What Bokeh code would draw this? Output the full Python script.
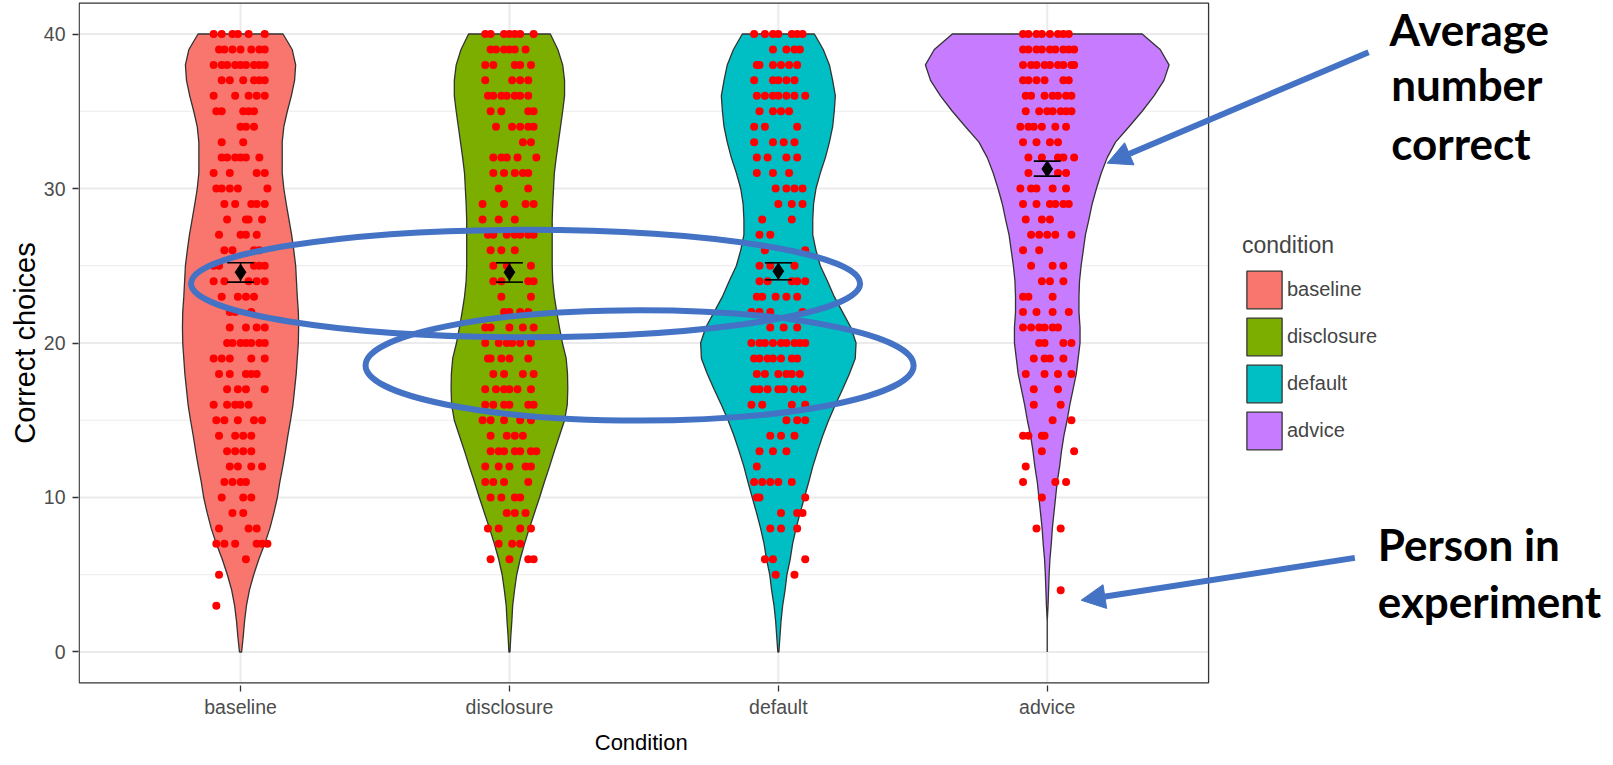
from bokeh.plotting import figure
from bokeh.models import Range1d, FixedTicker, Label, Arrow, NormalHead, Legend, LegendItem
from bokeh.embed import file_html
from bokeh.resources import INLINE

# ---------------- data ----------------
CATEGORIES = ["baseline", "disclosure", "default", "advice"]
FILLS = ["#F8766D", "#7CAE00", "#00BFC4", "#C77CFF"]
SCORES = list(range(0, 41))

# violin half-widths (hundredths of a category) for scores 0..40
BASELINE_HW = [0.4, 1.0, 1.5, 2.2, 3.3, 4.9, 6.8, 9.0, 10.9, 12.4, 13.7, 14.6, 15.7, 16.7, 17.6, 18.6,
               19.5, 20.1, 20.7, 21.1, 21.5, 21.6, 21.5, 21.1, 20.8, 20.5, 19.8, 19.0, 18.0, 17.0, 16.1,
               15.5, 15.5, 15.5, 16.1, 17.4, 18.9, 20.1, 20.5, 19.2, 15.8]
DISCLOSURE_HW = [0.2, 0.5, 0.9, 1.2, 1.9, 2.7, 4.0, 5.6, 7.4, 9.3, 11.2, 13.0, 14.9, 16.7, 18.6, 20.5,
                 21.5, 21.7, 21.6, 21.1, 19.7, 18.6, 17.6, 16.7, 16.1, 15.9, 15.9, 15.9, 15.9, 16.1, 16.4,
                 16.7, 17.4, 18.2, 19.0, 19.8, 20.5, 20.5, 19.8, 18.0, 15.2]
DEFAULT_HW = [0.2, 0.6, 1.0, 1.6, 2.5, 3.2, 4.4, 5.3, 6.6, 8.1, 9.7, 11.3, 12.8, 14.6, 16.5, 18.7,
              21.2, 23.9, 26.4, 28.6, 28.9, 27.0, 23.9, 20.8, 18.3, 15.6, 14.0, 12.8, 12.8, 13.1, 14.0,
              15.6, 17.5, 19.0, 20.2, 20.8, 21.2, 20.2, 19.0, 16.7, 13.4]
ADVICE_HW = [0.0, 0.0, 0.0, 0.3, 0.5, 0.7, 1.0, 1.5, 1.9, 2.5, 3.1, 3.7, 4.6, 5.3, 6.2, 7.4,
             8.4, 9.6, 10.8, 11.5, 12.2, 12.2, 11.8, 11.8, 12.0, 12.6, 13.4, 14.2, 15.5, 16.7, 18.3,
             20.1, 22.3, 25.4, 30.4, 35.3, 39.7, 43.4, 45.3, 42.0, 35.3]

# individual participants: score -> horizontal jitter (hundredths of a category)
BASELINE_DOTS = {
    40: [-10, -7, -3, -1, 3, 9], 39: [-8, -6, -3, 0, 4, 7, 9], 38: [-10, -7, -5, -2, 0, 2, 5, 7, 9],
    37: [-7, -4, 1, 5, 7, 9], 36: [-10, -2, 3, 6, 9], 35: [-9, -7, 1, 3, 5], 34: [0, 2, 5], 33: [-7, 1],
    32: [-7, -5, -2, 0, 2, 7], 31: [-10, -4, 6, 9], 30: [-9, -7, -4, -1, 10], 29: [-6, -2, 4, 6, 9],
    28: [-5, 2, 3, 8], 27: [-8, 0, 2, 6], 26: [-6, -3, 5, 7], 25: [-10, -8, 5, 7, 9], 24: [-10, -6, 3, 6, 9],
    23: [-7, -1, 2, 5], 22: [-4, -2, 4], 21: [-4, 2, 6, 9], 20: [-5, -3, 0, 2, 4, 7, 9],
    19: [-10, -7, -4, 4, 9], 18: [-8, -4, 2, 4, 6], 17: [-5, -1, 2, 9], 16: [-10, -5, -2, 0, 3],
    15: [-9, -6, -1, 5, 8], 14: [-8, -2, 1, 4], 13: [-5, -2, 1, 4], 12: [-4, -1, 4, 8], 11: [-6, -3, 0, 2],
    10: [-7, 1, 4], 9: [-3, 1], 8: [-8, 3, 6], 7: [-9, -6, -2, 6, 8, 10], 6: [2], 5: [-8], 3: [-9],
}
DISCLOSURE_DOTS = {
    40: [-9, -7, -2, 0, 2, 4, 9], 39: [-7, -5, -2, 0, 2, 6], 38: [-9, -6, 2, 4, 8], 37: [-9, 1, 4, 7],
    36: [-8, -6, -3, -1, 2, 4, 7], 35: [-7, -3, 7, 9], 34: [-5, 1, 4, 7, 9], 33: [5, 8],
    32: [-6, -3, -1, 3, 10], 31: [-6, -2, 2, 5, 7], 30: [-4, 7], 29: [-10, -2, 6, 9], 28: [-10, -4, 2],
    27: [-8, -6, -1, 2, 4, 7, 9], 26: [-7, -3, 2], 25: [-6, -1, 8], 24: [-6, -3, 7, 9], 23: [-3, 8],
    22: [-2, 0, 4, 7], 21: [-9, -7, 0, 5, 9], 20: [-9, -4, -1, 1, 4, 8], 19: [-8, -7, -3, 0, 7],
    18: [-6, -2, 5, 9], 17: [-9, -5, -2, 0, 3, 8], 16: [-9, -6, -2, 0, 7, 9], 15: [-10, -7, -2, 4, 8],
    14: [-7, -1, 2, 5], 13: [-7, -4, -2, 2, 4, 8, 10], 12: [-9, -4, 0, 6, 8], 11: [-9, -6, -2, 7],
    10: [-7, -3, 2, 4], 9: [-1, 2, 6], 8: [-8, -4, 4, 8], 7: [-4, 1, 4], 6: [-7, 0, 7, 9],
}
DEFAULT_DOTS = {
    40: [-9, -5, -2, 0, 5, 7, 9], 39: [-2, 3, 6, 8], 38: [-8, -7, -2, 1, 4, 7], 37: [-9, -2, 0, 3, 6],
    36: [-8, -5, -2, 0, 3, 6, 10], 35: [-7, -2, 1, 4], 34: [-9, -5, 7], 33: [-9, -2, 2, 6],
    32: [-8, -4, 3, 7], 31: [-8, -2, 4], 30: [-1, 3, 6, 9], 29: [0, 5, 9], 28: [-6, 5], 27: [-7, -3],
    26: [-5, 10], 25: [-7, -3, 6], 24: [-7, -4, 5, 7, 10], 23: [-8, -6, -1, 3, 7], 22: [-10, -7, -3, 9],
    21: [-3, 2, 7], 20: [-10, -7, -5, -2, 1, 3, 6, 8, 10], 19: [-9, -7, -4, -2, 1, 5, 7],
    18: [-8, -5, 0, 3, 5, 8], 17: [-9, -7, -4, 0, 2, 6, 9], 16: [-10, -6, 5, 10], 15: [3, 7, 10],
    14: [-3, 1, 6], 13: [-7, -2, 3], 12: [-8], 11: [-9, -6, -3, 0, 5], 10: [-8, -7, 10], 9: [1, 7, 9],
    8: [-3, 1, 7], 6: [-5, -2, 10], 5: [-1, 6],
}
ADVICE_DOTS = {
    40: [-9, -7, -4, -2, 1, 4, 6, 8], 39: [-9, -7, -4, -2, 1, 3, 6, 8, 10], 38: [-9, -6, -4, -1, 1, 4, 6, 9, 10],
    37: [-9, -7, -4, -1, 6, 8], 36: [-8, -6, -1, 2, 4, 7, 9], 35: [-8, -3, 0, 2, 5, 7, 9],
    34: [-10, -7, -5, -2, 3, 7], 33: [-9, -4, 1, 4], 32: [-7, -2, 4, 6, 10], 31: [-7, 4, 7],
    30: [-10, -6, -4, 2, 7], 29: [-9, -4, 1, 3, 6, 8], 28: [-8, -2, 1], 27: [-6, -3, 0, 3, 9], 26: [-9, -3],
    25: [-6, 2, 6], 24: [-2, 1, 6], 23: [-9, -7, 2], 22: [-9, -4, 2, 8], 21: [-9, -6, -3, -1, 2, 4],
    20: [-3, -1, 6, 9], 19: [-5, -1, 1, 6], 18: [-8, -1, 4, 9], 17: [-5, 4], 16: [-5, 5], 15: [2, 9],
    14: [-9, -7, -2, -1], 13: [-2, 10], 12: [-8], 11: [-9, 3, 7], 10: [-2], 8: [-4, 5], 4: [5],
}

MEANS = [24.58, 24.58, 24.65, 31.27]
SE_LOW = [23.94, 23.94, 24.09, 30.80]
SE_HIGH = [25.19, 25.19, 25.19, 31.77]
Y_TICKS = [0, 10, 20, 30, 40]

HALF_WIDTHS = [BASELINE_HW, DISCLOSURE_HW, DEFAULT_HW, ADVICE_HW]
DOTS = [BASELINE_DOTS, DISCLOSURE_DOTS, DEFAULT_DOTS, ADVICE_DOTS]

BLUE = "#4472C4"
SANS = "Liberation Sans"

# ---------------- figure ----------------
W, H = 1613, 760
p = figure(width=W, height=H, output_backend="svg", toolbar_location=None,
           x_range=Range1d(0.3974, 0.3974 + (W - 78) / 268.9), y_range=Range1d(-2.17, 42.17),
           min_border_left=78, min_border_right=0, min_border_top=0, min_border_bottom=H - 685)
p.outline_line_color = None
p.grid.visible = False
p.background_fill_color = "white"
p.border_fill_color = "white"

X0, X1 = 0.4, 4.6
Y0, Y1 = -2, 42

# grid (ggplot theme_bw)
minor = [(a + b) / 2 for a, b in zip(Y_TICKS[:-1], Y_TICKS[1:])]
p.segment(x0=[X0] * len(minor), x1=[X1] * len(minor), y0=minor, y1=minor, line_color="#EBEBEB", line_width=1.2)
p.segment(x0=[X0] * len(Y_TICKS), x1=[X1] * len(Y_TICKS), y0=Y_TICKS, y1=Y_TICKS, line_color="#EBEBEB", line_width=2)
cx = list(range(1, len(CATEGORIES) + 1))
p.segment(x0=cx, x1=cx, y0=[Y0] * 4, y1=[Y1] * 4, line_color="#EBEBEB", line_width=2)

# violins
items = []
for i, (cat, hw, col) in enumerate(zip(CATEGORIES, HALF_WIDTHS, FILLS)):
    c = i + 1
    xs = [c + h / 100 for h in hw] + [c - h / 100 for h in reversed(hw)]
    ys = SCORES + list(reversed(SCORES))
    r = p.patch(xs, ys, fill_color=col, line_color="#333333", line_width=1.3)
    items.append(LegendItem(label=cat, renderers=[r]))

# participants
dx, dy = [], []
for i, dots in enumerate(DOTS):
    for score, offs in dots.items():
        for o in offs:
            dx.append(i + 1 + o / 100)
            dy.append(score)
p.scatter(dx, dy, size=8, fill_color="#FF0000", line_color=None)

# mean +/- se
p.segment(x0=cx, x1=cx, y0=SE_LOW, y1=SE_HIGH, line_color="black", line_width=1.4)
p.segment(x0=[c - 0.05 for c in cx], x1=[c + 0.05 for c in cx], y0=SE_LOW, y1=SE_LOW, line_color="black", line_width=1.6)
p.segment(x0=[c - 0.05 for c in cx], x1=[c + 0.05 for c in cx], y0=SE_HIGH, y1=SE_HIGH, line_color="black", line_width=1.6)
p.scatter(cx, MEANS, marker="diamond", size=16, fill_color="black", line_color="black")

# panel border
p.quad(left=[X0], right=[X1], bottom=[Y0], top=[Y1], fill_color=None, line_color="#333333", line_width=1.3)

# axes
p.xaxis.ticker = FixedTicker(ticks=cx)
p.xaxis.major_label_overrides = {c: cat for c, cat in zip(cx, CATEGORIES)}
p.xaxis.bounds = (X0, X1)
p.yaxis.ticker = FixedTicker(ticks=Y_TICKS)
for ax in (p.xaxis[0], p.yaxis[0]):
    ax.axis_line_color = None
    ax.major_tick_in = 0
    ax.major_tick_out = 6
    ax.major_tick_line_color = "#333333"
    ax.major_tick_line_width = 1.3
    ax.minor_tick_out = 0
    ax.minor_tick_in = 0
    ax.major_label_text_font = SANS
    ax.major_label_text_font_size = "19.5px"
    ax.major_label_text_color = "#4D4D4D"
    ax.axis_label_text_font = SANS
    ax.axis_label_text_font_size = "22px"
    ax.axis_label_text_font_style = "normal"
    ax.axis_label_text_color = "black"
# the frame extends right of the panel for the notes; trailing no-break spaces
# move the centred axis title back under the panel
p.xaxis.axis_label = "Condition" + "\u00a0" * 67
p.yaxis.axis_label = "Correct choices"
p.yaxis.axis_label_text_font_size = "29px"
p.xaxis.major_label_standoff = 4
p.xaxis.axis_label_standoff = 9
p.yaxis.major_label_standoff = 7
p.yaxis.axis_label_standoff = 0

# legend
legend = Legend(items=items, title="condition", location=(1164, 231),
                glyph_width=44, glyph_height=47, label_height=47, spacing=0, padding=0, margin=0,
                label_standoff=1, label_text_font=SANS, label_text_font_size="20px",
                title_text_font=SANS, title_text_font_size="23px", title_text_font_style="normal",
                title_standoff=7, border_line_color=None, background_fill_alpha=0)
p.add_layout(legend)

# annotations
p.ellipse(x=[2.060, 2.484], y=[23.85, 18.55], width=[2.488, 2.038], height=[6.95, 7.15],
          fill_color=None, line_color=BLUE, line_width=6)

p.add_layout(Arrow(end=NormalHead(size=24, fill_color=BLUE, line_color=BLUE),
                   x_start=5.195, y_start=38.82, x_end=4.223, y_end=31.64, line_color=BLUE, line_width=6))
p.add_layout(Arrow(end=NormalHead(size=24, fill_color=BLUE, line_color=BLUE),
                   x_start=5.144, y_start=6.09, x_end=4.126, y_end=3.35, line_color=BLUE, line_width=6))

def note(txt, x, y, size="44px", color="black", align="left", bold=True):
    p.add_layout(Label(x=x, y=y, text=txt, text_font="Lato", text_font_size=size,
                       text_font_style="bold" if bold else "normal", text_color=color,
                       text_align=align, text_baseline="alphabetic"))

note("Average", 5.273, 40.35)
note("number", 5.279, 36.75)
note("correct", 5.279, 32.97)
note("Person in", 5.229, 7.0)
note("experiment", 5.229, 3.31)
note("e", 0.17, 0.6, size="44px", color=BLUE, align="right", bold=False)

open("out.html", "w").write(file_html(p, INLINE))
